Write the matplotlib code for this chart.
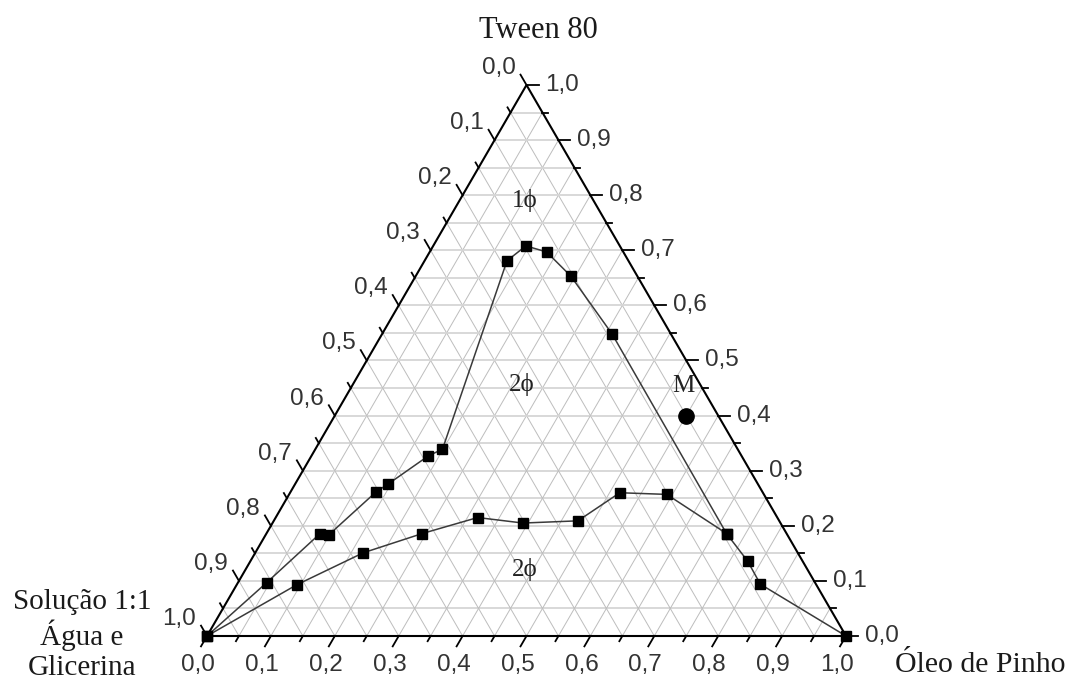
import numpy as np
import matplotlib.pyplot as plt

# composition data (fractions)
tween_sup = [0.0, 0.097, 0.186, 0.184, 0.262, 0.275, 0.327, 0.339, 0.681, 0.708,
             0.697, 0.653, 0.548, 0.186, 0.136, 0.094, 0.0]
oleo_sup = [0.0, 0.045, 0.084, 0.099, 0.134, 0.145, 0.183, 0.199, 0.129, 0.145,
            0.183, 0.243, 0.360, 0.720, 0.778, 0.819, 1.0]

tween_inf = [0.0, 0.093, 0.151, 0.186, 0.215, 0.205, 0.209, 0.260, 0.257, 0.186]
oleo_inf = [0.0, 0.094, 0.169, 0.244, 0.316, 0.392, 0.476, 0.516, 0.591, 0.720]

tween_m = [0.40]
oleo_m = [0.55]

tick_values = np.round(np.arange(0, 1.0001, 0.05), 2)

SERIF = ['Liberation Serif', 'DejaVu Serif']
SANS = ['Liberation Sans', 'DejaVu Sans']
H = np.sqrt(3) / 2
PX = 1 / 639  # data units per pixel
TICK_FS = 17.5


def to_xy(tween, oleo):
    t = np.asarray(tween, dtype=float)
    b = np.asarray(oleo, dtype=float)
    return b + t / 2, t * H


def fmt(v):
    return '{:.1f}'.format(v).replace('.', ',')


fig = plt.figure(figsize=(10.71, 6.84), dpi=100)
ax = fig.add_axes([207 / 1071, 48 / 684, 639 / 1071, 551 / 684])
ax.set_xlim(0, 1)
ax.set_ylim(0, H)
ax.set_axis_off()

# grid
for v in tick_values[1:-1]:
    x, y = to_xy([v, v], [0, 1 - v])
    ax.plot(x, y, color='#d6d6d6', lw=1.3, zorder=1)
    x, y = to_xy([0, 1 - v], [v, v])
    ax.plot(x, y, color='#bdbdbd', lw=0.7, zorder=1)
    x, y = to_xy([0, 1 - v], [1 - v, 0])
    ax.plot(x, y, color='#bdbdbd', lw=0.7, zorder=1)

# triangle edges
x, y = to_xy([0, 0, 1, 0], [0, 1, 0, 0])
ax.plot(x, y, color='black', lw=1.5, zorder=3, clip_on=False)

# ticks and tick labels
for i, v in enumerate(tick_values):
    major = i % 2 == 0
    ln = (12 if major else 6) * PX
    # right axis: Tween 80
    x0, y0 = to_xy(v, 1 - v)
    ax.plot([x0, x0 + ln], [y0, y0], color='black', lw=1.3, clip_on=False, zorder=3)
    if major:
        ax.annotate(fmt(v), (x0, y0), xytext=(19, 0), textcoords='offset pixels',
                    ha='left', va='center', fontsize=TICK_FS, family=SANS, color='#333333')
    # left axis: water/glycerin
    x0, y0 = to_xy(1 - v, 0)
    ax.plot([x0, x0 - 0.5 * ln], [y0, y0 + H * ln], color='black', lw=1.3,
            clip_on=False, zorder=3)
    if major:
        ax.annotate(fmt(v), (x0, y0), xytext=(-28, 17), textcoords='offset pixels',
                    ha='center', va='center', fontsize=TICK_FS, family=SANS, color='#333333')
    # bottom axis: pine oil
    x0, y0 = to_xy(0, v)
    ax.plot([x0, x0 - 0.5 * ln], [y0, y0 - H * ln], color='black', lw=1.3,
            clip_on=False, zorder=3)
    if major:
        ax.annotate(fmt(v), (x0, y0), xytext=(-9, -29), textcoords='offset pixels',
                    ha='center', va='center', fontsize=TICK_FS, family=SANS, color='#333333')

# binodal curves
x, y = to_xy(tween_sup, oleo_sup)
ax.plot(x, y, color='#3a3a3a', lw=1.1, marker='s', ms=7, mfc='black', mec='black',
        clip_on=False, zorder=4)
x, y = to_xy(tween_inf, oleo_inf)
ax.plot(x, y, color='#3a3a3a', lw=1.1, marker='s', ms=7, mfc='black', mec='black',
        clip_on=False, zorder=4)

# point M
x, y = to_xy(tween_m, oleo_m)
ax.plot(x, y, 'o', color='black', ms=11, zorder=5)
ax.annotate('M', (x[0], y[0]), xytext=(-3, 30), textcoords='offset pixels',
            ha='center', va='center', fontsize=18, family=SERIF, color='#222222')

# phase labels
for label, t, b in [('1ϕ', 0.791, 0.102), ('2ϕ', 0.456, 0.265), ('2ϕ', 0.12, 0.438)]:
    x, y = to_xy(t, b)
    ax.text(x, y, label, ha='center', va='center', fontsize=18, family=SERIF,
            color='#222222', zorder=5)

# vertex titles
fig.text(538 / 1071, 1 - 30 / 684, 'Tween 80', ha='center', va='center',
         fontsize=22, family=SERIF, color='#1a1a1a')
fig.text(82 / 1071, 1 - 635 / 684, 'Solução 1:1\nÁgua e\nGlicerina', ha='center',
         va='center', fontsize=21, family=SERIF, color='#1a1a1a', linespacing=1.2)
fig.text(980 / 1071, 1 - 665 / 684, 'Óleo de Pinho', ha='center', va='center',
         fontsize=21.5, family=SERIF, color='#1a1a1a')

fig.savefig('out.png', dpi=100)
